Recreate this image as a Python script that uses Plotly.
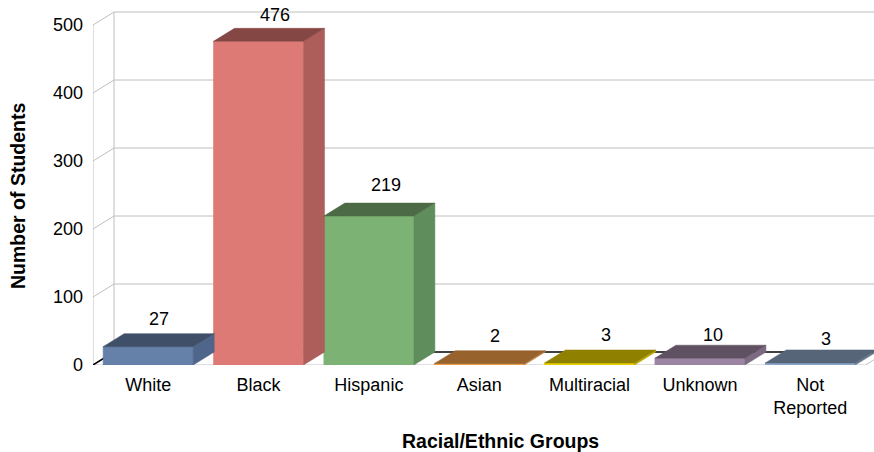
import plotly.graph_objects as go

categories = ["White", "Black", "Hispanic", "Asian", "Multiracial", "Unknown", "Not<br>Reported"]
students = [27, 476, 219, 2, 3, 10, 3]
y_ticks = [0, 100, 200, 300, 400, 500]

front_colors = ["#6580a9", "#de7a75", "#7db275", "#f0a04a", "#e6cf00", "#9b85a3", "#8aa5c8"]
side_colors = ["#4f6589", "#ad5e5a", "#5f8d5b", "#c08040", "#b8a600", "#7b6a82", "#66788f"]
top_colors = ["#3f4f68", "#844744", "#4b6a45", "#98622d", "#908000", "#5f5062", "#566678"]

label_dx = [11, 16, 17, 16, 16, 13, 16]
label_dy = [28, 26, 31, 28, 28, 23, 24]

PX_X = 110.3
PX_Y = 0.68
DEPTH_X = 21 / PX_X
DEPTH_Y = 13 / PX_Y
BAR_W = 90 / PX_X
X_MIN = -0.5
X_MAX = (874 - 148.5) / PX_X
Y_MAX = 365 / PX_Y
GRID = "#bebebe"
FONT = "Liberation Sans"

fig = go.Figure()
xs = list(range(len(categories)))
fig.add_trace(go.Bar(x=xs, y=students, width=BAR_W,
                     marker=dict(color=front_colors, line=dict(width=0.6, color=front_colors)),
                     showlegend=False, hoverinfo="skip"))

for i, v in zip(xs, students):
    l, r = i - BAR_W / 2, i + BAR_W / 2
    fig.add_trace(go.Scatter(x=[r, r + DEPTH_X, r + DEPTH_X, r, r], y=[0, DEPTH_Y, v + DEPTH_Y, v, 0],
                             mode="lines", fill="toself", fillcolor=side_colors[i],
                             line=dict(width=0.5, color=side_colors[i]), showlegend=False, hoverinfo="skip"))
    fig.add_trace(go.Scatter(x=[l, r, r + DEPTH_X, l + DEPTH_X, l], y=[v, v, v + DEPTH_Y, v + DEPTH_Y, v],
                             mode="lines", fill="toself", fillcolor=top_colors[i],
                             line=dict(width=0.5, color=top_colors[i]), showlegend=False, hoverinfo="skip"))

shapes = []
def seg(x0, y0, x1, y1, color=GRID, width=1):
    shapes.append(dict(type="line", layer="below", xref="x", yref="y", x0=x0, y0=y0, x1=x1, y1=y1,
                       line=dict(color=color, width=width)))

for t in y_ticks[1:]:
    seg(X_MIN + DEPTH_X, t + DEPTH_Y, X_MAX, t + DEPTH_Y)
    seg(X_MIN, t, X_MIN + DEPTH_X, t + DEPTH_Y)
seg(X_MIN, 0, X_MIN, y_ticks[-1])
seg(X_MIN + DEPTH_X, DEPTH_Y, X_MIN + DEPTH_X, y_ticks[-1] + DEPTH_Y)
front_end = X_MIN + len(categories)
seg(X_MIN, 0, front_end, 0)
seg(front_end, 0, front_end + DEPTH_X, DEPTH_Y)
seg(X_MIN, 0, X_MIN + DEPTH_X, DEPTH_Y, "#000000", 1.5)
seg(X_MIN + DEPTH_X, DEPTH_Y, X_MAX, DEPTH_Y, "#000000", 1.5)

annotations = [
    dict(x=i, y=v, text=str(v), showarrow=False, xshift=label_dx[i], yshift=label_dy[i],
         xanchor="center", yanchor="middle", font=dict(family=FONT, size=18, color="#000000"))
    for i, v in zip(xs, students)
]
annotations.append(dict(x=(500 - 93) / (874 - 93), y=(452 - 441 - 87) / 365, xref="paper", yref="paper",
                        text="<b>Racial/Ethnic Groups</b>", showarrow=False, xanchor="center", yanchor="middle",
                        font=dict(family=FONT, size=19.5, color="#000000")))
annotations.append(dict(x=(18 - 93) / (874 - 93), y=(452 - 196 - 87) / 365, xref="paper", yref="paper",
                        text="<b>Number of Students</b>", showarrow=False, textangle=-90,
                        xanchor="center", yanchor="middle",
                        font=dict(family=FONT, size=19.5, color="#000000")))

fig.update_layout(
    width=874, height=452, margin=dict(l=93, r=0, t=0, b=87), autosize=False,
    paper_bgcolor="#ffffff", plot_bgcolor="#ffffff",
    font=dict(family=FONT, size=18, color="#000000"),
    showlegend=False, shapes=shapes, annotations=annotations,
    xaxis=dict(range=[X_MIN, X_MAX], tickmode="array", tickvals=xs, ticktext=categories,
               showgrid=False, zeroline=False, showline=False, ticks="", ticklabelstandoff=7, tickangle=0),
    yaxis=dict(range=[0, Y_MAX], tickmode="array", tickvals=y_ticks, showgrid=False, zeroline=False,
               showline=False, ticks="", ticklabelstandoff=9),
)
fig.write_html("out.html", config=dict(displayModeBar=False),
               post_script="document.body.style.margin='0';document.documentElement.style.overflow='hidden';")
